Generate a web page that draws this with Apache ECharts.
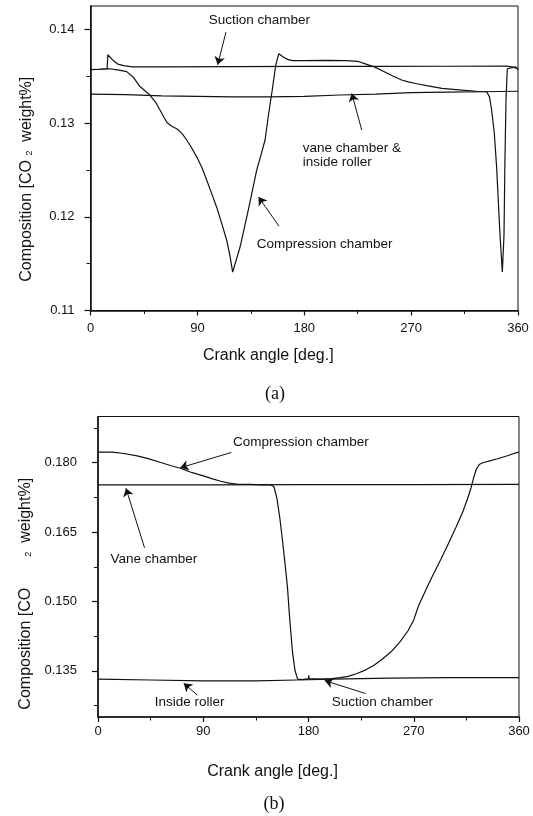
<!DOCTYPE html>
<html>
<head>
<meta charset="utf-8">
<script src="https://cdn.jsdelivr.net/npm/echarts@6/dist/echarts.min.js"></script>
<style>
  html, body { margin: 0; padding: 0; background: #fff; }
  #chart { width: 533px; height: 816px; }
</style>
</head>
<body>
<div id="chart"></div>
<script>
// ---------- panel (a): composition vs crank angle ----------
const topSuction = [
  [0, 0.1357], [8, 0.13575], [14, 0.1358], [14.6, 0.1373], [16, 0.1372], [19, 0.1367],
  [23, 0.1363], [28, 0.13613], [35, 0.1360], [60, 0.1360], [120, 0.13603], [180, 0.13605],
  [240, 0.13605], [300, 0.13607], [350, 0.13608], [355, 0.1360], [360, 0.1358]
];
const topCompression = [
  [0, 0.1357], [8, 0.13575], [16, 0.1358], [24, 0.13565], [30.5, 0.1355], [36, 0.1349],
  [41.7, 0.1339], [50, 0.1330], [55, 0.1322], [58.5, 0.1314], [62, 0.1306], [64.2, 0.1301],
  [68, 0.1297], [72.6, 0.1294], [77, 0.1289], [81, 0.1282], [85, 0.1274], [89.4, 0.1264],
  [94, 0.1252], [97.9, 0.1239], [102, 0.1225], [106.3, 0.1210], [110.5, 0.1193], [114.7, 0.1175],
  [117.5, 0.1158], [119.7, 0.1141], [126, 0.1168], [133, 0.1208], [140, 0.1250], [144, 0.1268],
  [147, 0.1282], [150, 0.1310], [153, 0.1335], [156, 0.1362], [158.5, 0.1374], [160, 0.1373],
  [163, 0.1370], [166, 0.1368], [170, 0.13667], [180, 0.13667], [200, 0.1367], [215, 0.13668],
  [225, 0.1366], [232, 0.1363], [239, 0.1360], [247, 0.1355], [255, 0.1350], [262, 0.1346],
  [267.5, 0.1344], [275, 0.1342], [283, 0.1340], [296, 0.1337], [310, 0.13355], [325, 0.1334],
  [333.6, 0.13335], [336, 0.1328], [337.8, 0.1314], [340, 0.1290], [342, 0.1253], [344.8, 0.1182],
  [346.8, 0.1141], [348.2, 0.1180], [349, 0.1260], [349.9, 0.1325], [351, 0.1358], [352, 0.1360],
  [358, 0.1360], [360, 0.1357]
];
const topVaneRoller = [
  [0, 0.1331], [30, 0.13305], [60, 0.1329], [90, 0.13285], [120, 0.1328], [150, 0.1328],
  [180, 0.13285], [210, 0.1330], [240, 0.1331], [270, 0.13325], [300, 0.1333], [330, 0.13335],
  [360, 0.1334]
];

// ---------- panel (b) ----------
const botCompression = [
  [0, 0.1823], [12, 0.1823], [22, 0.1820], [32.5, 0.18154], [43, 0.1809], [53, 0.1801],
  [62, 0.1794], [70.4, 0.1788], [80, 0.1779], [90.7, 0.1771], [98, 0.1765], [105, 0.1760],
  [112, 0.1756], [120, 0.17535], [130, 0.1753], [140, 0.1752], [148, 0.1752], [150.5, 0.1748],
  [153, 0.1723], [155.5, 0.1680], [157.6, 0.1635], [160, 0.1580], [162, 0.1531], [164, 0.1460],
  [166.3, 0.1391], [168.5, 0.1350], [170.7, 0.1332], [175, 0.1331], [180, 0.1333]
];
const botSuction = [
  [180, 0.1333], [180.2, 0.1340], [180.5, 0.1333], [190, 0.1332], [200, 0.1333], [207, 0.1335],
  [214, 0.1338], [221.5, 0.1344], [229, 0.1352], [236, 0.1362], [243, 0.1375], [250.6, 0.1391],
  [258, 0.1412], [265, 0.1436], [270, 0.1460], [274, 0.1490], [280, 0.1523], [285.6, 0.1553],
  [293, 0.1590], [300, 0.1627], [306, 0.1660], [311.8, 0.1693], [316, 0.1722], [319, 0.1746],
  [321.5, 0.1770], [323.5, 0.1786], [326, 0.1796], [329, 0.1800], [335, 0.1804], [341, 0.1808],
  [350, 0.1815], [358, 0.1822], [360, 0.1823]
];
const botVane = [[0, 0.1752], [90, 0.17522], [180, 0.17525], [270, 0.17527], [360, 0.1753]];
const botRoller = [
  [0, 0.1332], [45, 0.1330], [90, 0.1328], [135, 0.1328], [170, 0.1330], [200, 0.1332],
  [250, 0.1334], [300, 0.1335], [360, 0.1335]
];

// ---------- axis ticks ----------
const angleLabels = [0, 90, 180, 270, 360];
const angleMinor = [45, 135, 225, 315];
const topYLabels = [0.11, 0.12, 0.13, 0.14];
const topYMinor = [0.115, 0.125, 0.135];
const botYLabels = [0.135, 0.150, 0.165, 0.180];
const botYMinor = [0.1275, 0.1425, 0.1575, 0.1725, 0.1875];

// ---------- annotation texts and arrows (in data coordinates) ----------
const topNotes = [
  { text: 'Suction chamber', at: [99.5, 0.14102] },
  { text: 'vane chamber &\ninside roller', at: [178.7, 0.12661] },
  { text: 'Compression chamber', at: [140, 0.11703] }
];
const topArrows = [
  [[114.1, 0.13971], [107.1, 0.13623]],
  [[228.4, 0.12926], [220, 0.13317]],
  [[158.7, 0.11901], [141.5, 0.12211]]
];
const botNotes = [
  { text: 'Compression chamber', at: [115.4, 0.18442] },
  { text: 'Vane chamber', at: [10.7, 0.15902] },
  { text: 'Inside roller', at: [48.6, 0.12824] },
  { text: 'Suction chamber', at: [199.8, 0.12824] }
];
const botArrows = [
  [[114, 0.18222], [70.4, 0.17891]],
  [[39.8, 0.1616], [23.9, 0.1745]],
  [[84.9, 0.12976], [73.3, 0.13229]],
  [[228.8, 0.13008], [193.9, 0.13287]]
];

const FONT = 'Liberation Sans, Arial, Helvetica, sans-serif';
const INK = '#111';

function noteMarks(notes) {
  return {
    silent: true,
    symbol: 'circle',
    symbolSize: 0,
    itemStyle: { color: 'rgba(0,0,0,0)' },
    label: {
      show: true, position: 'right', distance: 0, color: INK,
      fontFamily: FONT, fontSize: 13.5, lineHeight: 14, align: 'left',
      formatter: p => p.name
    },
    data: notes.map(n => ({ name: n.text, coord: n.at }))
  };
}
function arrowMarks(arrows) {
  return {
    silent: true,
    symbol: ['none', 'arrow'],
    symbolSize: 8,
    itemStyle: { color: INK },
    lineStyle: { color: INK, width: 1, type: 'solid' },
    label: { show: false },
    emphasis: { disabled: true },
    data: arrows.map(a => [{ coord: a[0] }, { coord: a[1] }])
  };
}

function xAxisPair(grid, labelMargin, nameGap) {
  return [
    {
      type: 'value', gridIndex: grid, min: 0, max: 360, position: 'bottom',
      name: 'Crank angle [deg.]', nameLocation: 'middle', nameGap: nameGap,
      nameTextStyle: { fontFamily: FONT, fontSize: 16, color: INK, padding: [0, 72, 0, 0] },
      axisLine: { show: true, lineStyle: { color: INK, width: 1.6 } },
      axisTick: { show: true, inside: false, length: 5, customValues: angleLabels, lineStyle: { color: INK, width: 1.2 } },
      axisLabel: { show: true, customValues: angleLabels, margin: labelMargin, fontFamily: FONT, fontSize: 13, color: INK },
      splitLine: { show: false }
    },
    {
      type: 'value', gridIndex: grid, min: 0, max: 360, position: 'bottom',
      axisLine: { show: false },
      axisTick: { show: true, inside: false, length: 3.5, customValues: angleMinor, lineStyle: { color: INK, width: 1 } },
      axisLabel: { show: false },
      splitLine: { show: false }
    }
  ];
}
function yAxisPair(grid, min, max, labels, minor, digits, labelMargin, nameText, nameGap, namePad) {
  return [
    {
      type: 'value', gridIndex: grid, min: min, max: max, position: 'left',
      name: nameText, nameLocation: 'middle', nameGap: nameGap, nameRotate: 90,
      nameTextStyle: {
        fontFamily: FONT, fontSize: 16, color: INK, padding: namePad,
        rich: {
          t: { fontFamily: FONT, fontSize: 16, color: INK },
          s: { fontFamily: FONT, fontSize: 9, color: INK, padding: [6, 0, 0, 0] }
        }
      },
      axisLine: { show: true, lineStyle: { color: INK, width: 1.6 } },
      axisTick: { show: true, inside: false, length: 6, customValues: labels, lineStyle: { color: INK, width: 1.2 } },
      axisLabel: {
        show: true, customValues: labels, margin: labelMargin, fontFamily: FONT, fontSize: 13, color: INK,
        formatter: v => Number(v).toFixed(digits)
      },
      splitLine: { show: false }
    },
    {
      type: 'value', gridIndex: grid, min: min, max: max, position: 'left',
      axisLine: { show: false },
      axisTick: { show: true, inside: false, length: 4, customValues: minor, lineStyle: { color: INK, width: 1 } },
      axisLabel: { show: false },
      splitLine: { show: false }
    }
  ];
}

function curve(name, data, xi, yi, extra) {
  return Object.assign({
    name: name, type: 'line', xAxisIndex: xi, yAxisIndex: yi, data: data,
    showSymbol: false, symbol: 'none', smooth: false, clip: true,
    lineStyle: { color: INK, width: 1.2 }
  }, extra || {});
}

const chart = echarts.init(document.getElementById('chart'), null, { renderer: 'canvas' });
chart.setOption({
  animation: false,
  backgroundColor: '#fff',
  grid: [
    { left: 90.5, right: 15, top: 6, bottom: 505.5, show: true, borderColor: INK, borderWidth: 1, backgroundColor: 'transparent' },
    { left: 98, right: 14, top: 416.5, bottom: 99, show: true, borderColor: INK, borderWidth: 1, backgroundColor: 'transparent' }
  ],
  xAxis: [].concat(xAxisPair(0, 11, 37), xAxisPair(1, 8, 47)),
  yAxis: [].concat(
    yAxisPair(0, 0.11, 0.1425, topYLabels, topYMinor, 2, 16,
      '{t|Composition [CO }{s|2}{t|  weight%]}', 56, [0, 42, 0, 0]),
    yAxisPair(1, 0.125, 0.19, botYLabels, botYMinor, 3, 21,
      '{t|Composition [CO       }{s|2}{t|  weight%]}', 59, [0, 54, 0, 0])
  ),
  graphic: [
    { type: 'text', x: 275, y: 394, style: { text: '(a)', font: '18px "Liberation Serif", "DejaVu Serif", serif', fill: INK, textAlign: 'center', textVerticalAlign: 'middle' } },
    { type: 'text', x: 274, y: 804, style: { text: '(b)', font: '18px "Liberation Serif", "DejaVu Serif", serif', fill: INK, textAlign: 'center', textVerticalAlign: 'middle' } }
  ],
  series: [
    curve('Suction chamber (a)', topSuction, 0, 0, { markPoint: noteMarks(topNotes), markLine: arrowMarks(topArrows) }),
    curve('Compression chamber (a)', topCompression, 0, 0),
    curve('Vane chamber & inside roller (a)', topVaneRoller, 0, 0),
    curve('Compression chamber (b)', botCompression, 2, 2, { markPoint: noteMarks(botNotes), markLine: arrowMarks(botArrows) }),
    curve('Suction chamber (b)', botSuction, 2, 2),
    curve('Vane chamber (b)', botVane, 2, 2),
    curve('Inside roller (b)', botRoller, 2, 2)
  ]
});
</script>
</body>
</html>
